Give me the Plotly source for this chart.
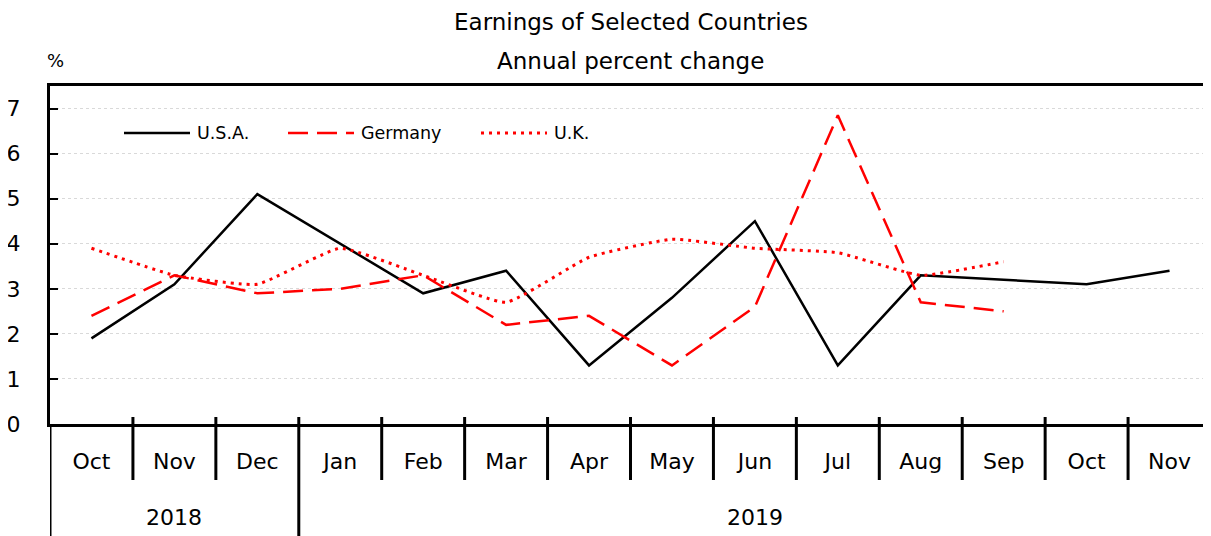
import plotly.graph_objects as go

months = ["Oct", "Nov", "Dec", "Jan", "Feb", "Mar", "Apr", "May", "Jun", "Jul", "Aug", "Sep", "Oct", "Nov"]
years = ["2018", "2018", "2018", "2019", "2019", "2019", "2019", "2019", "2019", "2019", "2019", "2019", "2019", "2019"]
usa = [1.9, 3.1, 5.1, 4.0, 2.9, 3.4, 1.3, 2.8, 4.5, 1.3, 3.3, 3.2, 3.1, 3.4]
germany = [2.4, 3.3, 2.9, 3.0, 3.3, 2.2, 2.4, 1.3, 2.6, 6.85, 2.7, 2.5, None, None]
uk = [3.9, 3.3, 3.1, 3.9, 3.3, 2.7, 3.7, 4.1, 3.9, 3.8, 3.3, 3.6, None, None]
y_ticks = [0, 1, 2, 3, 4, 5, 6, 7]

FONT = "DejaVu Sans"
xs = list(range(len(months)))

# the page has an 8px body margin, so the figure is drawn 8px in from the top-left
W = 1161.0  # plot width in px
H = 338.0   # plot height in px
def py(px_below_axis):
    return -px_below_axis / H
def pyt(px_from_top):
    return (424 - px_from_top) / H
def pxx(px):
    return (px - 50) / W

styles = {
    "U.S.A.": dict(color="black", width=2.5),
    "Germany": dict(color="#ff0000", width=2.5, dash="20px,9px"),
    "U.K.": dict(color="#ff0000", width=3, dash="3px,5px"),
}

fig = go.Figure()
fig.add_trace(go.Scatter(x=xs, y=usa, mode="lines", name="U.S.A.", showlegend=False,
                         line=styles["U.S.A."]))
fig.add_trace(go.Scatter(x=xs, y=germany, mode="lines", name="Germany", showlegend=False,
                         line=styles["Germany"]))
fig.add_trace(go.Scatter(x=xs, y=uk, mode="lines", name="U.K.", showlegend=False,
                         line=dict(**styles["U.K."], shape="spline", smoothing=0.4)))

shapes = []
# month separators
for i in range(1, len(months)):
    shapes.append(dict(type="line", xref="x", yref="paper", x0=i - 0.5, x1=i - 0.5,
                       y0=7 / H, y1=py(56), line=dict(color="black", width=3)))
# year separators
group_starts = [0] + [i for i in range(1, len(years)) if years[i] != years[i - 1]]
for s in group_starts:
    y0 = 0 if s == 0 else py(56)
    shapes.append(dict(type="line", xref="x", yref="paper", x0=s - 0.5, x1=s - 0.5,
                       y0=y0, y1=py(120), line=dict(color="black", width=3)))

annotations = []
# legend (drawn manually to get long line samples)
legend_items = [("U.S.A.", 124, 190), ("Germany", 288, 354), ("U.K.", 481, 547)]
ly = pyt(133)
for name, x0, x1 in legend_items:
    shapes.append(dict(type="line", xref="paper", yref="paper", x0=pxx(x0), x1=pxx(x1),
                       y0=ly, y1=ly, line=styles[name]))
    annotations.append(dict(xref="paper", yref="paper", x=pxx(x1 + 5), y=ly, text=name,
                            showarrow=False, xanchor="left", yanchor="middle",
                            font=dict(family=FONT, size=17.5, color="black")))

bounds = group_starts + [len(years)]
for a, b in zip(bounds[:-1], bounds[1:]):
    annotations.append(dict(xref="x", yref="paper", x=(a + b - 1) / 2, y=py(94),
                            text=years[a], showarrow=False, yanchor="middle",
                            font=dict(family=FONT, size=22, color="black")))
annotations.append(dict(xref="paper", yref="paper", x=0.5, y=pyt(22),
                        text="Earnings of Selected Countries", showarrow=False, yanchor="middle",
                        font=dict(family=FONT, size=23, color="black")))
annotations.append(dict(xref="paper", yref="paper", x=0.5, y=pyt(61),
                        text="Annual percent change", showarrow=False, yanchor="middle",
                        font=dict(family=FONT, size=23, color="black")))
annotations.append(dict(xref="paper", yref="paper", x=pxx(55), y=pyt(60),
                        text="%", showarrow=False, yanchor="middle", xanchor="center",
                        font=dict(family=FONT, size=18, color="black")))

fig.update_layout(
    width=1203, height=528,
    margin=dict(l=42, r=0, t=78, b=112, autoexpand=False),
    plot_bgcolor="white", paper_bgcolor="white",
    font=dict(family=FONT, size=22, color="black"),
    showlegend=False,
    shapes=shapes, annotations=annotations,
)
fig.update_xaxes(range=[-0.5, len(months) - 0.5], tickvals=xs, ticktext=months,
                 showgrid=False, showline=True, linecolor="black", linewidth=3, mirror=True,
                 ticks="", ticklabelstandoff=16, tickfont=dict(family=FONT, size=22),
                 zeroline=False, automargin=False)
fig.update_yaxes(range=[0, 7.5], tickvals=y_ticks, showgrid=True, gridcolor="#d9d9d9",
                 griddash="dot", gridwidth=1, showline=True, linecolor="black", linewidth=3,
                 ticks="inside", ticklen=8, tickwidth=2, tickcolor="black",
                 ticklabelstandoff=22, tickfont=dict(family=FONT, size=22), zeroline=False,
                 automargin=False)

fig.write_html("out.html")
